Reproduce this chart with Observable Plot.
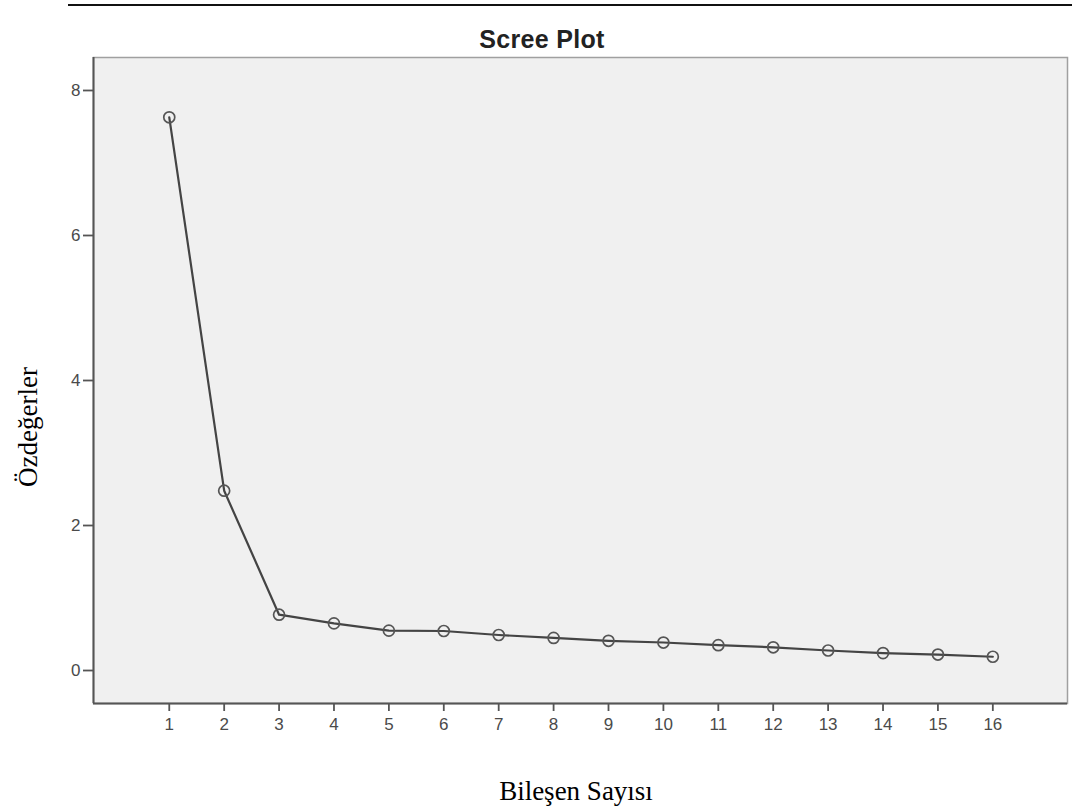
<!DOCTYPE html>
<html><head><meta charset="utf-8">
<script src="https://cdn.jsdelivr.net/npm/d3@7"></script>
<script src="https://cdn.jsdelivr.net/npm/@observablehq/plot@0.6"></script>
<style>
body{margin:0;background:#fff;width:1072px;height:811px;position:relative;overflow:hidden}
#chart{position:absolute;left:0;top:0}
.t{position:absolute;white-space:nowrap;line-height:1}
</style></head><body>
<div id="chart"></div>
<div style="position:absolute;left:68px;right:0;top:4px;border-top:2px solid #111"></div>
<div class="t" style="left:542px;top:25px;transform:translateX(-50%);font:bold 25px 'Liberation Sans',Arial,sans-serif;color:#222;letter-spacing:0.3px">Scree Plot</div>
<div class="t" style="left:28px;top:427px;transform:translate(-50%,-50%) rotate(-90deg);font:27px 'Liberation Serif','Times New Roman',serif;color:#000">Özdeğerler</div>
<div class="t" style="left:576px;top:776px;transform:translateX(-50%);font:27px 'Liberation Serif','Times New Roman',serif;color:#000">Bileşen Sayısı</div>
<script>
const components = [1,2,3,4,5,6,7,8,9,10,11,12,13,14,15,16];
const eigenvalues = [7.63,2.48,0.77,0.65,0.55,0.545,0.49,0.45,0.41,0.386,0.35,0.32,0.276,0.24,0.22,0.19];
const xTicks = [1,2,3,4,5,6,7,8,9,10,11,12,13,14,15,16];
const yTicks = [0,2,4,6,8];
const data = components.map((c,i)=>({c, v: eigenvalues[i]}));
const xDomain = [-0.38, 17.36];
const yDomain = [-0.455, 8.455];
const plot = Plot.plot({
  width:1072, height:811,
  marginLeft:93, marginRight:5, marginTop:57, marginBottom:108,
  style:{fontFamily:"'Liberation Sans',Arial,sans-serif", background:"transparent", fontSize:"17px"},
  x:{domain:xDomain},
  y:{domain:yDomain},
  marks:[
    Plot.frame({fill:"#f0f0f0", stroke:"#a0a0a0", strokeWidth:1.5}),
    Plot.ruleX([xDomain[0]], {stroke:"#555", strokeWidth:2}),
    Plot.ruleY([yDomain[0]], {stroke:"#555", strokeWidth:2}),
    Plot.axisX({ticks:xTicks, tickSize:8, tickPadding:6, fontSize:17, fill:"#4a4a4a", stroke:"#555", strokeWidth:1.8, label:null, tickFormat:d=>String(d)}),
    Plot.axisY({ticks:yTicks, tickSize:10, tickPadding:3, fontSize:17, fill:"#4a4a4a", stroke:"#555", strokeWidth:1.8, label:null, tickFormat:d=>String(d)}),
    Plot.line(data, {x:"c", y:"v", stroke:"#444", strokeWidth:2.2}),
    Plot.dot(data, {x:"c", y:"v", r:5.5, stroke:"#555", strokeWidth:1.7, fill:"none"})
  ]
});
document.getElementById("chart").appendChild(plot);
</script>
</body></html>
